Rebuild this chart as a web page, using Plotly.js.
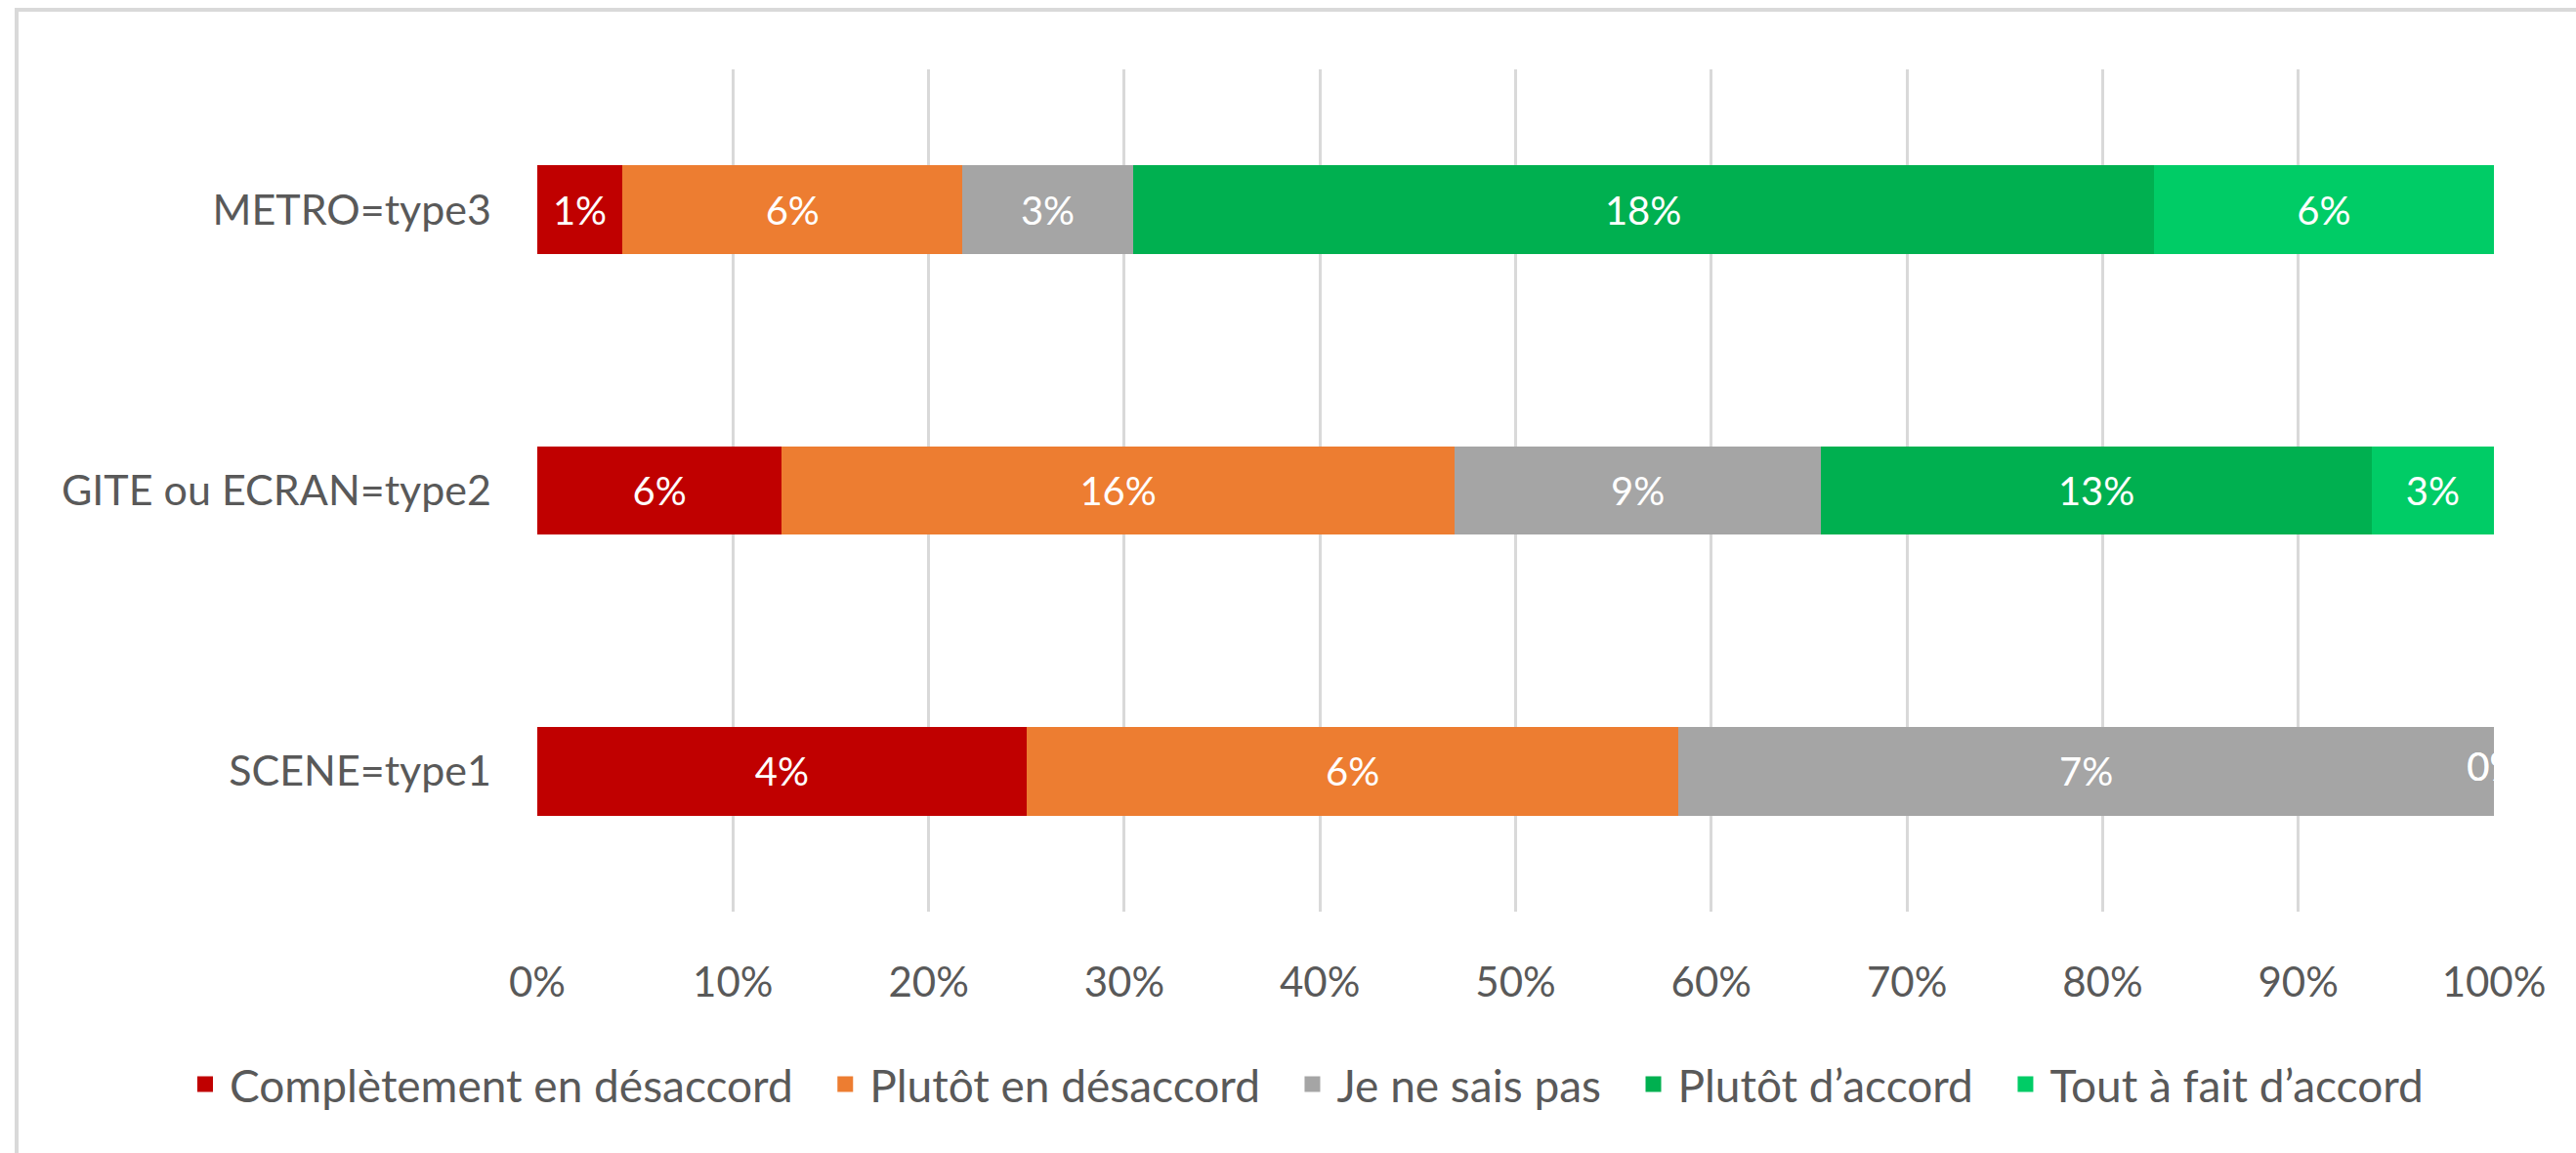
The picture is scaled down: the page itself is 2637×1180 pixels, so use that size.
<!DOCTYPE html>
<html>
<head>
<meta charset="utf-8">
<script src="https://cdn.plot.ly/plotly-3.0.1.min.js"></script>
<style>
  html, body { margin: 0; padding: 0; background: #ffffff; overflow: hidden; }
  #chart { position: absolute; left: 0; top: 0; width: 2637px; height: 1180px; }
  #frame { position: absolute; left: 15px; top: 8px; width: 2700px; height: 1300px;
           border: 4px solid #D9D9D9; pointer-events: none; box-sizing: border-box; }
</style>
</head>
<body>
<div id="chart"></div>
<div id="frame"></div>
<script>
// Categories (bottom to top)
const categories = ["SCENE=type1", "GITE ou ECRAN=type2", "METRO=type3"];

// Series: response counts per category (bar lengths, normalised to 100%)
const seriesNames = ["Complètement en désaccord", "Plutôt en désaccord", "Je ne sais pas", "Plutôt d\u2019accord", "Tout à fait d\u2019accord"];
const completementDesaccord = [3, 4, 1];
const plutotDesaccord       = [4, 11, 4];
const jeNeSaisPas           = [5, 6, 2];
const plutotAccord          = [0, 9, 12];
const toutAFaitAccord       = [0, 2, 4];

// Data labels as printed on the bars (share of the overall total)
const lblCompletement = ["4%", "6%", "1%"];
const lblPlutotDes    = ["6%", "16%", "6%"];
const lblNeSaisPas    = ["7%", "9%", "3%"];
const lblPlutotAcc    = ["0%", "13%", "18%"];
const lblToutAFait    = ["0%", "3%", "6%"];

const colors = ["#C00000", "#ED7D31", "#A5A5A5", "#00B050", "#00CC66"];

const tickVals = [0, 10, 20, 30, 40, 50, 60, 70, 80, 90, 100];

const FONT = "Lato, 'Open Sans', sans-serif";

const values = [completementDesaccord, plutotDesaccord, jeNeSaisPas, plutotAccord, toutAFaitAccord];
const labels = [lblCompletement, lblPlutotDes, lblNeSaisPas, lblPlutotAcc, lblToutAFait];

const totals = categories.map((_, i) => values.reduce((s, arr) => s + arr[i], 0));

const traces = values.map((vals, k) => ({
  type: "bar",
  orientation: "h",
  name: seriesNames[k],
  showlegend: false,
  y: categories,
  x: vals,
  marker: { color: colors[k], line: { width: 0 } },
  text: vals.map((v, i) => v > 0 ? labels[k][i] : ""),
  textposition: "inside",
  insidetextanchor: "middle",
  textangle: 0,
  constraintext: "none",
  textfont: { family: FONT, size: 40, color: "#ffffff" },
  hoverinfo: "name+x"
}));

// Labels of zero-length segments, placed at the stacked end position of that segment
const zeroX = [], zeroY = [], zeroT = [];
values.forEach((vals, k) => {
  vals.forEach((v, i) => {
    if (v === 0) {
      let cum = 0;
      for (let j = 0; j <= k; j++) cum += values[j][i];
      zeroX.push(100 * cum / totals[i]);
      zeroY.push(categories[i]);
      zeroT.push(labels[k][i]);
    }
  });
});
traces.push({
  type: "scatter",
  mode: "text",
  x: zeroX,
  y: zeroY,
  text: zeroT,
  textposition: "middle center",
  textfont: { family: FONT, size: 40, color: "#ffffff" },
  cliponaxis: true,
  showlegend: false,
  hoverinfo: "skip"
});

// Legend entries with larger square keys (trailing no-break spaces widen the spacing between entries)
const PAD = "\u00a0\u00a0";
seriesNames.forEach((n, k) => {
  traces.push({
    type: "scatter",
    mode: "markers",
    name: k < seriesNames.length - 1 ? n + PAD : n,
    x: [null],
    y: [null],
    marker: { symbol: "square", size: 24, color: colors[k] },
    showlegend: true,
    hoverinfo: "skip"
  });
});

const layout = {
  width: 2637,
  height: 1180,
  paper_bgcolor: "#ffffff",
  plot_bgcolor: "#ffffff",
  margin: { l: 20, r: 84, t: 71, b: 247, autoexpand: false },
  barmode: "stack",
  barnorm: "percent",
  bargap: 0.684,
  font: { family: FONT, size: 43, color: "#595959" },
  showlegend: true,
  legend: {
    orientation: "h",
    x: 165 / 2533, xanchor: "left",
    y: -0.205, yanchor: "middle",
    font: { family: FONT, size: 46, color: "#595959" },
    traceorder: "normal",
    itemwidth: 40,
    tracegroupgap: 0
  },
  xaxis: {
    domain: [530 / 2533, 1],
    range: [0, 100],
    tickvals: tickVals,
    ticktext: tickVals.map(v => v + "%"),
    showgrid: true,
    gridcolor: "#D9D9D9",
    gridwidth: 3,
    zeroline: false,
    showline: false,
    ticks: "",
    ticklabelstandoff: 44,
    tickfont: { family: FONT, size: 42, color: "#595959" },
    fixedrange: true
  },
  yaxis: {
    type: "category",
    categoryorder: "array",
    categoryarray: categories,
    range: [-0.5, 2.5],
    showgrid: false,
    zeroline: false,
    showline: false,
    ticks: "",
    ticklabelstandoff: 46,
    tickfont: { family: FONT, size: 43, color: "#595959" },
    fixedrange: true
  }
};

Plotly.newPlot("chart", traces, layout, { displayModeBar: false, staticPlot: true });
</script>
</body>
</html>
